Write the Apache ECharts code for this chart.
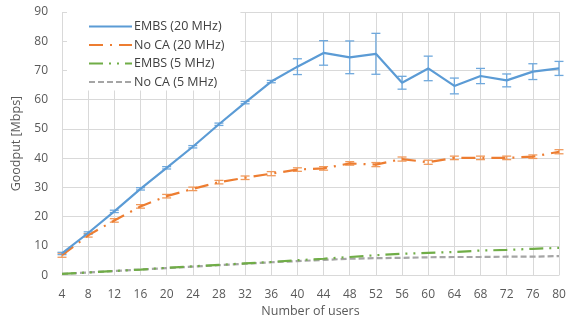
<!DOCTYPE html>
<html>
<head>
<meta charset="utf-8">
<script src="https://cdn.jsdelivr.net/npm/echarts@6/dist/echarts.min.js"></script>
<style>html,body{margin:0;padding:0;background:#fff}#c{width:582px;height:323px}</style>
</head>
<body>
<div id="c"></div>
<script>
var users = ['4','8','12','16','20','24','28','32','36','40','44','48','52','56','60','64','68','72','76','80'];
var embs20 = [7.4,14.4,21.8,29.5,36.7,43.9,51.6,59.0,66.2,71.3,76.0,74.5,75.7,65.8,70.7,64.7,68.1,66.6,69.6,70.7];
var embs20Err = [0.4,0.4,0.4,0.4,0.4,0.4,0.4,0.4,0.4,2.7,4.2,5.6,7.0,2.2,4.2,2.7,2.6,2.2,2.7,2.4];
var noca20 = [6.8,13.6,18.7,23.5,27.0,29.5,31.8,33.3,34.7,36.1,36.5,38.2,37.8,39.7,38.6,40.1,40.1,40.1,40.5,42.2];
var noca20Err = [0.7,0.6,0.6,0.6,0.6,0.6,0.6,0.6,0.7,0.6,0.6,0.6,0.7,0.7,0.7,0.6,0.6,0.6,0.6,0.7];
var embs5 = [0.4,0.9,1.4,1.9,2.5,3.0,3.5,4.0,4.5,5.1,5.6,6.2,6.8,7.3,7.6,7.9,8.4,8.6,9.0,9.3];
var noca5 = [0.4,0.9,1.4,1.9,2.4,2.9,3.4,3.9,4.4,4.8,5.2,5.6,5.8,5.9,6.1,6.2,6.2,6.3,6.3,6.5];
var yTicks = {min:0, max:90, interval:10};

function errData(vals, errs){
  return vals.map(function(v,i){ return [i, v-errs[i], v+errs[i]]; });
}
function errSeries(vals, errs, color){
  return {
    type:'custom', silent:true, z:3,
    data: errData(vals, errs),
    renderItem: function(params, api){
      var lo = api.coord([api.value(0), api.value(1)]);
      var hi = api.coord([api.value(0), api.value(2)]);
      var w = 4.5;
      var st = {stroke: color, lineWidth: 1.3, fill:'none'};
      return {type:'group', children:[
        {type:'line', shape:{x1:lo[0],y1:lo[1],x2:hi[0],y2:hi[1]}, style:st},
        {type:'line', shape:{x1:lo[0]-w,y1:lo[1],x2:lo[0]+w,y2:lo[1]}, style:st},
        {type:'line', shape:{x1:hi[0]-w,y1:hi[1],x2:hi[0]+w,y2:hi[1]}, style:st}
      ]};
    }
  };
}
var font = 'Open Sans';
var chart = echarts.init(document.getElementById('c'), null, {renderer:'canvas'});
chart.setOption({
  animation:false,
  textStyle:{fontFamily:font},
  grid:{left:62, right:23, top:12, bottom:46, containLabel:false},
  legend:{
    data:['EMBS (20 MHz)','No CA (20 MHz)','EMBS (5 MHz)','No CA (5 MHz)'],
    orient:'vertical', left:67, top:12, itemWidth:43, itemHeight:10, itemGap:5.5,
    backgroundColor:'#fff', padding:[8,16,2,21],
    itemStyle:{opacity:0, borderWidth:0},
    textStyle:{fontSize:12.5, color:'#404040', fontFamily:font, padding:[0,0,0,-3]},
    z:10
  },
  xAxis:{
    type:'category', data:users, boundaryGap:false,
    name:'Number of users', nameLocation:'middle', nameGap:27,
    nameTextStyle:{fontSize:12.5, color:'#595959', fontFamily:font},
    axisLine:{lineStyle:{color:'#d9d9d9', width:1}},
    axisTick:{show:false},
    axisLabel:{fontSize:12, color:'#595959', margin:13, fontFamily:font},
    splitLine:{show:true, lineStyle:{color:'#d9d9d9', width:1}}
  },
  yAxis:{
    type:'value', min:yTicks.min, max:yTicks.max, interval:yTicks.interval,
    name:'Goodput [Mbps]', nameLocation:'middle', nameGap:38,
    nameTextStyle:{fontSize:12.5, color:'#595959', fontFamily:font},
    axisLine:{show:false}, axisTick:{show:false},
    axisLabel:{fontSize:12, color:'#595959', margin:14, fontFamily:font},
    splitLine:{lineStyle:{color:'#d9d9d9', width:1}}
  },
  series:[
    {name:'No CA (5 MHz)', type:'line', data:noca5, symbol:'none', z:4,
     itemStyle:{color:'#a5a5a5'},
     lineStyle:{color:'#a5a5a5', width:2.2, type:[6,3]}},
    {name:'EMBS (5 MHz)', type:'line', data:embs5, symbol:'none', z:5,
     itemStyle:{color:'#70ad47'},
     lineStyle:{color:'#70ad47', width:2.2, type:[14,6,2,6,2,6]}},
    {name:'No CA (20 MHz)', type:'line', data:noca20, symbol:'none', z:6,
     itemStyle:{color:'#ed7d31'},
     lineStyle:{color:'#ed7d31', width:2.2, type:[14,7,2,7]}},
    {name:'EMBS (20 MHz)', type:'line', data:embs20, symbol:'none', z:7,
     itemStyle:{color:'#5b9bd5'},
     lineStyle:{color:'#5b9bd5', width:2.2, type:'solid'}},
    errSeries(noca20, noca20Err, '#f09a5c'),
    errSeries(embs20, embs20Err, '#6fa8dc')
  ]
});
</script>
</body>
</html>
